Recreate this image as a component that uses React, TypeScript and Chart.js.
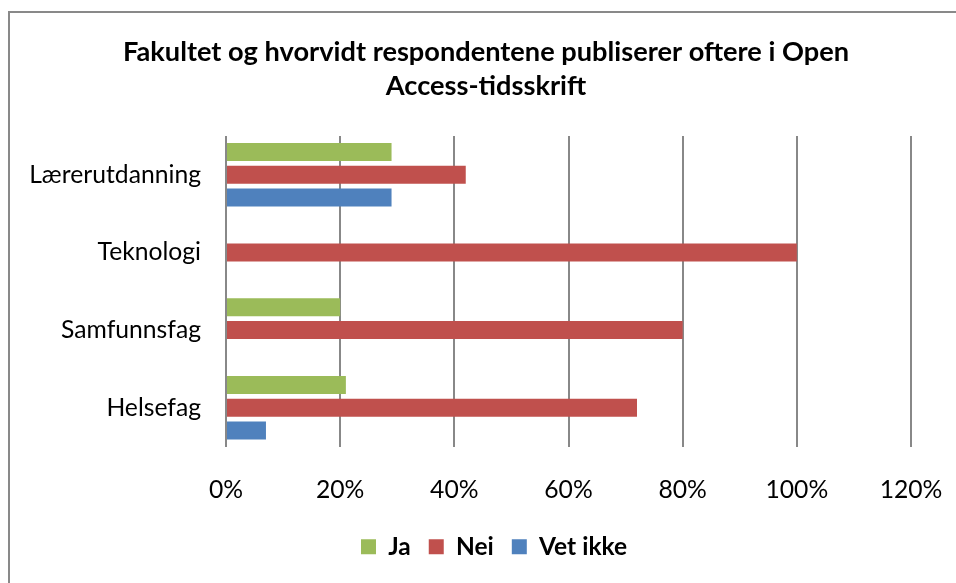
import React, { useEffect, useRef } from "react";
import { Chart, registerables } from "chart.js";

Chart.register(...registerables);

const categories = ["Lærerutdanning", "Teknologi", "Samfunnsfag", "Helsefag"];
const jaValues = [29, 0, 20, 21];
const neiValues = [42, 100, 80, 72];
const vetIkkeValues = [29, 0, 0, 7];
const seriesNames = ["Ja", "Nei", "Vet ikke"];
const seriesColors = ["#9BBB59", "#C0504D", "#4F81BD"];
const xMax = 120;
const xStep = 20;
const titleLines = [
  "Fakultet og hvorvidt respondentene publiserer oftere i Open",
  "Access-tidsskrift",
];

const FAMILY = "Lato";

function fitSize(text: string, weight: string, target: number): number {
  const c = document.createElement("canvas").getContext("2d")!;
  c.font = `${weight} 100px ${FAMILY}`;
  const w = c.measureText(text).width;
  return Math.round((100 * target) / w * 10) / 10;
}

const frame = {
  id: "frame",
  afterLayout(chart: any) {
    // centre title and legend the way the original (wider) chart frame does
    if (chart.titleBlock) {
      chart.titleBlock.left = 16;
      chart.titleBlock.right = 956;
    }
    if (chart.legend) {
      chart.legend.left += 34;
      chart.legend.right += 34;
    }
  },
  beforeDraw(chart: any) {
    const ctx = chart.ctx;
    ctx.save();
    ctx.fillStyle = "#fff";
    ctx.fillRect(0, 0, chart.width, chart.height);
    ctx.strokeStyle = "#898989";
    ctx.lineWidth = 2;
    ctx.beginPath();
    ctx.moveTo(9, chart.height + 5);
    ctx.lineTo(9, 12);
    ctx.lineTo(chart.width + 5, 12);
    ctx.stroke();
    ctx.restore();
  },
};

export default function App() {
  const ref = useRef<HTMLCanvasElement>(null);
  useEffect(() => {
    document.body.style.margin = "0";
    const titleSize = fitSize(titleLines[0], "bold", 727);
    const labelSize = fitSize("Lærerutdanning", "normal", 172);
    const legendSize = fitSize("Vet ikke", "bold", 88);
    const chart = new Chart(ref.current!, {
      type: "bar",
      data: {
        labels: categories,
        datasets: [jaValues, neiValues, vetIkkeValues].map((d, i) => ({
          label: seriesNames[i],
          data: d,
          backgroundColor: seriesColors[i],
          borderWidth: 0,
          categoryPercentage: 0.88,
          barPercentage: 0.79,
        })),
      },
      options: {
        indexAxis: "y",
        responsive: false,
        animation: false,
        devicePixelRatio: 1,
        layout: { padding: { top: 12, left: 9, right: 45, bottom: 14 } },
        scales: {
          x: {
            min: 0,
            max: xMax,
            ticks: {
              stepSize: xStep,
              color: "#000",
              padding: 29,
              font: { family: FAMILY, size: labelSize },
              callback: (v: any) => v + "%",
            },
            grid: { color: "#888", lineWidth: 2, drawTicks: false },
            border: { display: false },
            afterFit: (s: any) => {
              s.height = 70;
              s.paddingLeft = 0;
              s.paddingRight = 0;
            },
          },
          y: {
            ticks: {
              color: "#000",
              padding: 25,
              font: { family: FAMILY, size: labelSize },
            },
            grid: { display: false, drawTicks: false },
            border: { display: false },
            afterFit: (s: any) => {
              s.width = 217;
            },
          },
        },
        plugins: {
          title: {
            display: true,
            text: titleLines,
            color: "#000",
            font: { family: FAMILY, size: titleSize, weight: "bold", lineHeight: "34px" },
            padding: { top: 23, bottom: 33 },
          },
          legend: {
            position: "bottom",
            labels: {
              color: "#000",
              boxWidth: 15,
              boxHeight: 15,
              padding: 18,
              font: { family: FAMILY, size: legendSize, weight: "bold" },
            },
          },
          tooltip: { enabled: false },
        },
      },
      plugins: [frame],
    } as any);
    return () => chart.destroy();
  }, []);
  return <canvas ref={ref} width={956} height={583} style={{ display: "block" }} />;
}
